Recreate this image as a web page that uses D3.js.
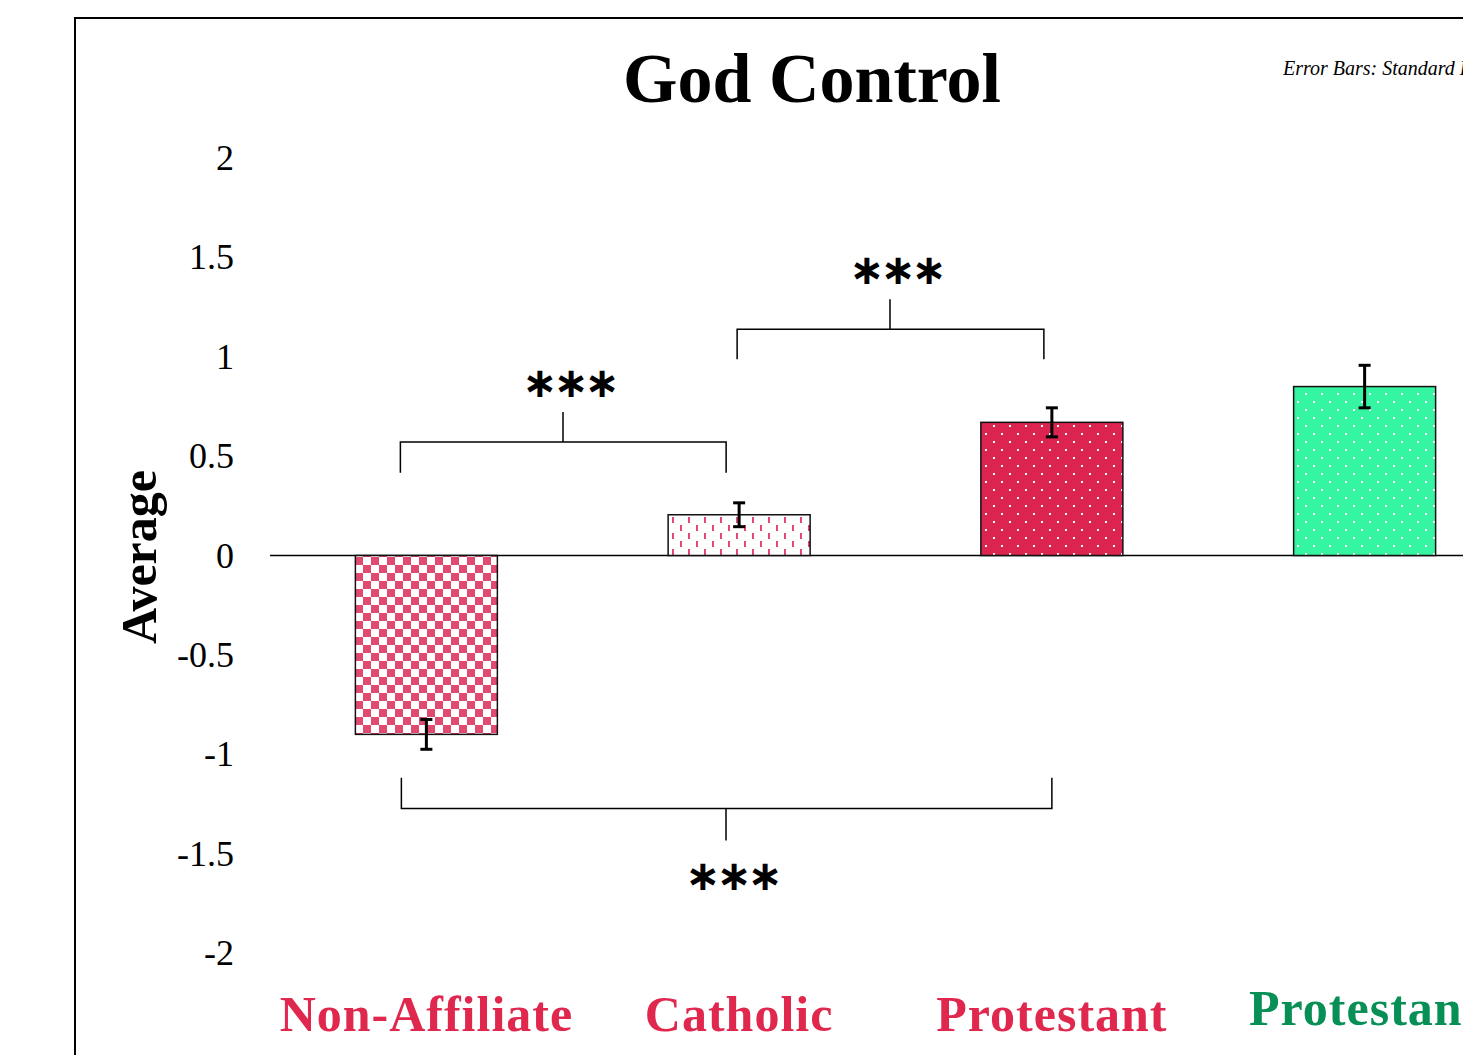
<!DOCTYPE html>
<html>
<head>
<meta charset="utf-8">
<script src="https://cdn.jsdelivr.net/npm/d3@7"></script>
<style>
  body { margin: 0; background: #fff; overflow: hidden; }
  text { font-family: "Palatino Linotype", "Book Antiqua", Palatino, "Liberation Serif", serif; }
</style>
</head>
<body>
<div id="chart"></div>
<script>
const categories = ["Non-Affiliate", "Catholic", "Protestant", "Protestant"];
const means = [-0.90, 0.205, 0.67, 0.85];
const errors = [0.075, 0.06, 0.073, 0.107];
const labelColors = ["#e0284f", "#e0284f", "#e0284f", "#078f55"];
const fills = ["url(#checker)", "url(#dashes)", "url(#dotsRed)", "url(#dotsGreen)"];
const yTicks = [2, 1.5, 1, 0.5, 0, -0.5, -1, -1.5, -2];
// significance brackets: from/to category index, level, leg end
const brackets = [
  { from: 0, to: 1, dx1: -26, dx2: -13, level: 0.571, leg: 0.416, tickX: 563, label: "***" },
  { from: 1, to: 2, dx1: -2, dx2: -8, level: 1.138, leg: 0.987, tickX: 890, label: "***" },
  { from: 0, to: 2, dx1: -25, dx2: 0, level: -1.273, leg: -1.118, tickX: 726, label: "***" }
];

const width = 1463;
const height = 1055;

const svg = d3.select("#chart")
  .append("svg")
  .attr("width", width)
  .attr("height", height);

const defs = svg.append("defs");

// checkerboard
const ck = defs.append("pattern").attr("id", "checker")
  .attr("patternUnits", "userSpaceOnUse").attr("width", 16).attr("height", 16)
  .attr("x", 355).attr("y", 557);
ck.append("rect").attr("width", 16).attr("height", 16).attr("fill", "#fff");
ck.append("rect").attr("width", 8).attr("height", 8).attr("fill", "#e04a70");
ck.append("rect").attr("x", 8).attr("y", 8).attr("width", 8).attr("height", 8).attr("fill", "#e04a70");

// dashes
const ds = defs.append("pattern").attr("id", "dashes")
  .attr("patternUnits", "userSpaceOnUse").attr("width", 16).attr("height", 16)
  .attr("x", 670).attr("y", 516);
ds.append("rect").attr("width", 16).attr("height", 16).attr("fill", "#fff");
ds.append("rect").attr("x", 2).attr("y", 1).attr("width", 2).attr("height", 6).attr("fill", "#e04a70");
ds.append("rect").attr("x", 10).attr("y", 9).attr("width", 2).attr("height", 6).attr("fill", "#e04a70");

function dots(id, color, x0) {
  const p = defs.append("pattern").attr("id", id)
    .attr("patternUnits", "userSpaceOnUse").attr("width", 16).attr("height", 16)
    .attr("x", x0).attr("y", 0);
  p.append("rect").attr("width", 16).attr("height", 16).attr("fill", color);
  p.append("rect").attr("x", 1).attr("y", 1).attr("width", 2).attr("height", 2).attr("fill", "#fff");
  p.append("rect").attr("x", 9).attr("y", 9).attr("width", 2).attr("height", 2).attr("fill", "#fff");
}
dots("dotsRed", "#dc2450", 984);
dots("dotsGreen", "#35f5a2", 1296);

// frame
svg.append("rect")
  .attr("x", 75).attr("y", 18)
  .attr("width", 1500).attr("height", 1100)
  .attr("fill", "none").attr("stroke", "#000").attr("stroke-width", 2);

const x = d3.scaleBand()
  .domain(d3.range(categories.length))
  .range([270, 270 + 4 * 312.75])
  .paddingInner(0.546)
  .paddingOuter(0.273);

const y = d3.scaleLinear()
  .domain([-2, 2])
  .range([953, 158]);

const cx = i => x(i) + x.bandwidth() / 2;

// y axis labels
const yAxis = svg.append("g")
  .attr("transform", "translate(241, 0)")
  .call(d3.axisLeft(y).tickValues(yTicks).tickSize(0).tickPadding(7).tickFormat(d => String(d)));
yAxis.select(".domain").remove();
yAxis.selectAll("text")
  .attr("font-size", 36)
  .attr("fill", "#000")
  .style("font-family", "\"Palatino Linotype\", \"Book Antiqua\", Palatino, \"Liberation Serif\", serif");

// zero line
svg.append("line")
  .attr("x1", 270).attr("x2", width)
  .attr("y1", y(0)).attr("y2", y(0))
  .attr("stroke", "#000").attr("stroke-width", 1.5);

// bars
svg.selectAll("rect.bar")
  .data(means)
  .join("rect")
  .attr("class", "bar")
  .attr("x", (d, i) => x(i))
  .attr("y", d => y(Math.max(0, d)))
  .attr("width", x.bandwidth())
  .attr("height", d => Math.abs(y(d) - y(0)))
  .attr("fill", (d, i) => fills[i])
  .attr("stroke", "#111")
  .attr("stroke-width", 1.5);

// error bars
const eb = svg.selectAll("g.err")
  .data(means)
  .join("g")
  .attr("class", "err")
  .attr("stroke", "#000")
  .attr("stroke-width", 3);
eb.append("line")
  .attr("x1", (d, i) => cx(i)).attr("x2", (d, i) => cx(i))
  .attr("y1", (d, i) => y(d + errors[i])).attr("y2", (d, i) => y(d - errors[i]));
eb.append("line")
  .attr("x1", (d, i) => cx(i) - 6).attr("x2", (d, i) => cx(i) + 6)
  .attr("y1", (d, i) => y(d + errors[i])).attr("y2", (d, i) => y(d + errors[i]));
eb.append("line")
  .attr("x1", (d, i) => cx(i) - 6).attr("x2", (d, i) => cx(i) + 6)
  .attr("y1", (d, i) => y(d - errors[i])).attr("y2", (d, i) => y(d - errors[i]));

// brackets
brackets.forEach(b => {
  const x1 = cx(b.from) + b.dx1;
  const x2 = cx(b.to) + b.dx2;
  const yl = y(b.level);
  const yg = y(b.leg);
  const up = yg > yl;
  const tickEnd = up ? yl - 30 : yl + 32;
  svg.append("path")
    .attr("d", `M${x1},${yg}V${yl}H${x2}V${yg}M${b.tickX},${yl}V${tickEnd}`)
    .attr("fill", "none")
    .attr("stroke", "#000")
    .attr("stroke-width", 1.5);
  svg.append("text")
    .attr("x", b.tickX + 6)
    .attr("y", up ? tickEnd - 30 : tickEnd + 35)
    .attr("dy", "0.35em")
    .attr("text-anchor", "middle")
    .attr("font-size", 42)
    .attr("font-weight", "bold")
    .style("font-family", "\"DejaVu Sans\", sans-serif")
    .attr("letter-spacing", -4)
    .text("\u2217\u2217\u2217");
});

// category labels
svg.selectAll("text.cat")
  .data(categories)
  .join("text")
  .attr("class", "cat")
  .attr("x", (d, i) => cx(i))
  .attr("y", (d, i) => i === 3 ? 1025 : 1031)
  .attr("text-anchor", "middle")
  .attr("font-size", 50)
  .attr("font-weight", "bold")
  .attr("letter-spacing", 1)
  .attr("fill", (d, i) => labelColors[i])
  .text(d => d);

// title
svg.append("text")
  .attr("x", 812).attr("y", 102)
  .attr("text-anchor", "middle")
  .attr("font-size", 70)
  .attr("font-weight", "bold")
  .text("God Control");

svg.append("text")
  .attr("x", 1283).attr("y", 75)
  .attr("font-size", 20)
  .attr("font-style", "italic")
  .text("Error Bars: Standard Error");

// y title
svg.append("text")
  .attr("transform", "translate(156, 557) rotate(-90)")
  .attr("text-anchor", "middle")
  .attr("font-size", 50)
  .attr("font-weight", "bold")
  .text("Average");
</script>
</body>
</html>
